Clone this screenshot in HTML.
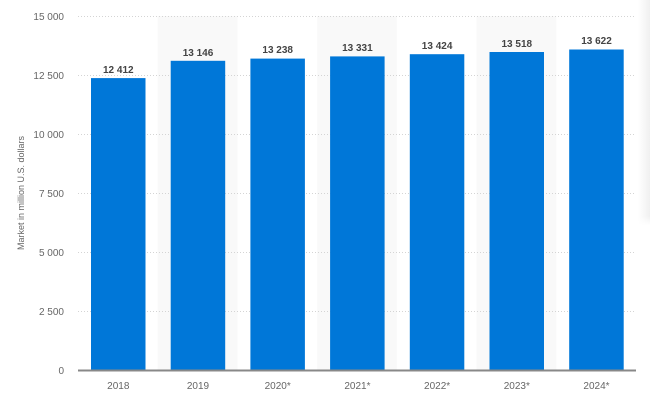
<!DOCTYPE html>
<html><head><style>body{margin:0;background:#fff}svg{display:block}</style></head><body>
<svg width="650" height="401" xmlns="http://www.w3.org/2000/svg" font-family="Liberation Sans, sans-serif">
<defs><linearGradient id="g" x1="0" x2="1"><stop offset="0" stop-color="#fff"/><stop offset="1" stop-color="#f0f0f0"/></linearGradient>
<linearGradient id="gv" x1="0" y1="0" x2="0" y2="1"><stop offset="0.8" stop-color="#fff" stop-opacity="0"/><stop offset="1" stop-color="#fff"/></linearGradient></defs>
<rect x="638" y="0" width="12" height="225" fill="url(#g)"/>
<rect x="638" y="180" width="12" height="45" fill="url(#gv)"/>
<rect x="157.7" y="16" width="79.7" height="354" fill="#f9f9f9"/>
<rect x="317.1" y="16" width="79.7" height="354" fill="#f9f9f9"/>
<rect x="476.6" y="16" width="79.7" height="354" fill="#f9f9f9"/>
<g stroke="#d4d4d4" stroke-dasharray="1,2" stroke-width="1">
<line x1="78" x2="636" y1="16.5" y2="16.5"/><line x1="78" x2="636" y1="75.5" y2="75.5"/><line x1="78" x2="636" y1="134.5" y2="134.5"/><line x1="78" x2="636" y1="193.5" y2="193.5"/><line x1="78" x2="636" y1="252.5" y2="252.5"/><line x1="78" x2="636" y1="311.5" y2="311.5"/>
</g>
<g font-size="10" fill="#666" text-anchor="end">
<text x="64" y="20">15 000</text><text x="64" y="79">12 500</text><text x="64" y="138">10 000</text><text x="64" y="197">7 500</text><text x="64" y="256">5 000</text><text x="64" y="315">2 500</text><text x="64" y="374">0</text>
</g>
<text transform="translate(24,193) rotate(-90)" font-size="9" fill="#666" text-anchor="middle">Market in million U.S. dollars</text>
<g fill="#0077d8">
<rect x="91" y="78.1" width="54.5" height="292"/>
<rect x="170.7" y="60.8" width="54.5" height="309.2"/>
<rect x="250.4" y="58.6" width="54.5" height="311.4"/>
<rect x="330.1" y="56.4" width="54.5" height="313.6"/>
<rect x="409.8" y="54.2" width="54.5" height="315.8"/>
<rect x="489.5" y="52" width="54.5" height="318"/>
<rect x="569.2" y="49.5" width="54.5" height="320.5"/>
</g>
<g font-size="10" font-weight="bold" fill="#444" text-anchor="middle">
<text x="118.3" y="73">12 412</text><text x="198" y="56">13 146</text><text x="277.7" y="53">13 238</text><text x="357.4" y="51">13 331</text><text x="437.1" y="49">13 424</text><text x="516.8" y="47">13 518</text><text x="596.5" y="44">13 622</text>
</g>
<line x1="78" x2="636" y1="370.5" y2="370.5" stroke="#888" stroke-width="2"/>
<g font-size="10" fill="#666" text-anchor="middle">
<text x="118.3" y="389">2018</text><text x="198" y="389">2019</text><text x="277.7" y="389">2020*</text><text x="357.4" y="389">2021*</text><text x="437.1" y="389">2022*</text><text x="516.8" y="389">2023*</text><text x="596.5" y="389">2024*</text>
</g>
</svg>
</body></html>
